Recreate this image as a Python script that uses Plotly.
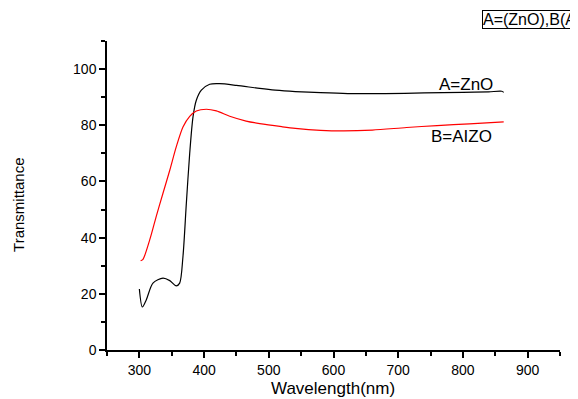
import plotly.graph_objects as go

# ZnO (A) transmittance curve
zno_wl = [300, 304.6, 310.8, 321, 336.5, 347, 357, 362.3, 367.4, 372.6, 377.8, 382.9, 388,
          395.8, 408.7, 424, 450, 486, 510, 541, 580, 622, 680, 740, 800, 840, 860, 863]
zno_t = [21.7, 15.3, 17.9, 23.8, 25.6, 24.7, 22.8, 23.8, 33.3, 52.2, 70.0, 83.0, 88.9,
         92.5, 94.6, 94.8, 94.2, 93.1, 92.5, 92.0, 91.6, 91.3, 91.3, 91.5, 91.7, 91.9, 92.1, 91.7]

# AlZO (B) transmittance curve
alzo_wl = [302, 305.6, 316, 326, 336.5, 347, 357, 367.4, 377.8, 388, 403.6, 419, 439.6,
           465, 486, 520, 541, 580, 616, 660, 713, 760, 810, 863]
alzo_t = [31.8, 32.3, 39.2, 47.5, 55.8, 64.0, 72.3, 79.4, 83.2, 85.1, 85.7, 85.1, 83.2,
          81.5, 80.6, 79.5, 78.9, 78.2, 78.0, 78.3, 79.2, 79.9, 80.5, 81.2]

x_ticks = [300, 400, 500, 600, 700, 800, 900]
y_ticks = [0, 20, 40, 60, 80, 100]

FONT = "Arial, Liberation Sans, sans-serif"

fig = go.Figure()
fig.add_trace(go.Scatter(x=zno_wl, y=zno_t, mode="lines", name="A=ZnO",
                         line=dict(color="black", width=1.2, shape="spline", smoothing=0.8)))
fig.add_trace(go.Scatter(x=alzo_wl, y=alzo_t, mode="lines", name="B=AlZO",
                         line=dict(color="red", width=1.2, shape="spline", smoothing=0.8)))

axis_common = dict(showline=True, linecolor="black", linewidth=1.5, ticks="outside",
                   ticklen=6, tickwidth=1.5, tickcolor="black", showgrid=False, zeroline=False,
                   tickfont=dict(family=FONT, size=14, color="black"), mirror=False,
                   automargin=False)

fig.update_xaxes(range=[250, 950], tickvals=x_ticks,
                 minor=dict(tick0=250, dtick=50, ticks="outside", ticklen=4, tickwidth=1.5,
                            tickcolor="black", showgrid=False),
                 **axis_common)
fig.update_yaxes(range=[0, 110], tickvals=y_ticks,
                 minor=dict(tick0=0, dtick=10, ticks="outside", ticklen=4, tickwidth=1.5,
                            tickcolor="black", showgrid=False),
                 **axis_common)

# axis titles
fig.add_annotation(x=0.499, y=-0.123, xref="paper", yref="paper", text="Wavelength(nm)",
                   showarrow=False, xanchor="center", yanchor="middle",
                   font=dict(family=FONT, size=17, color="black"))
fig.add_annotation(x=-0.1954, y=0.471, xref="paper", yref="paper", text="Transmittance",
                   showarrow=False, textangle=-90, xanchor="center", yanchor="middle",
                   font=dict(family=FONT, size=15, color="black"))

# curve labels
fig.add_annotation(x=805, y=94.6, xref="x", yref="y", text="A=ZnO", showarrow=False,
                   font=dict(family=FONT, size=17, color="black"))
fig.add_annotation(x=798, y=76.1, xref="x", yref="y", text="B=AIZO", showarrow=False,
                   font=dict(family=FONT, size=17, color="black"))
fig.add_annotation(x=0.828, y=1.071, xref="paper", yref="paper", xanchor="left", yanchor="middle",
                   text="A=(ZnO),B(AlZO)", showarrow=False, bordercolor="black", borderwidth=1,
                   borderpad=0, font=dict(family=FONT, size=16, color="black"))

# page body has an 8px margin: shrink the figure so the plot area lands where the reference has it
fig.update_layout(width=570, height=391, plot_bgcolor="white", paper_bgcolor="white",
                  showlegend=False, margin=dict(l=99, r=18, t=33, b=49, autoexpand=False),
                  font=dict(family=FONT))

fig.write_html("out.html")
